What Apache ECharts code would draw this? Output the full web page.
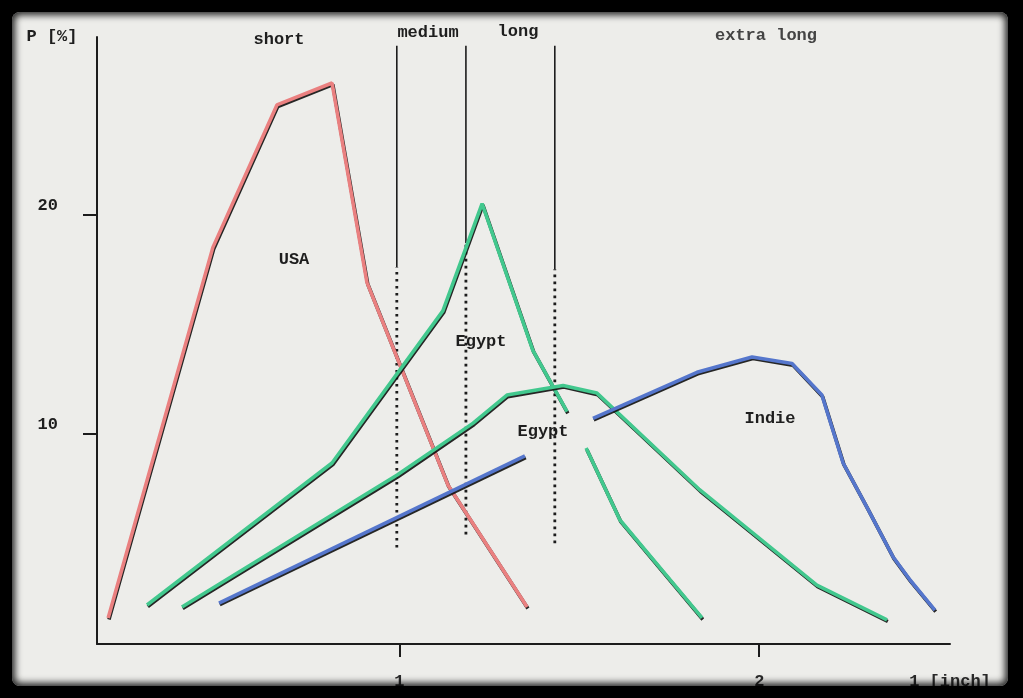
<!DOCTYPE html>
<html><head><meta charset="utf-8">
<script src="https://cdn.jsdelivr.net/npm/echarts@6/dist/echarts.min.js"></script>
<style>
html,body{margin:0;padding:0;background:#000;overflow:hidden;width:1023px;height:698px}
#chart{position:absolute;left:0;top:0;width:1023px;height:698px}
#frame{position:absolute;left:12px;top:12px;width:996px;height:674px;border-radius:8px;
 box-shadow:0 0 0 90px #000, inset 0 0 7px 3px rgba(0,0,0,0.85);pointer-events:none}
</style></head><body>
<div id="chart"></div><div id="frame"></div>
<script>
// ---- data (x: staple length in inch, y: P in %) ----
const usa = [[0.191,1.59],[0.482,18.5],[0.660,25.0],[0.813,26.0],[0.910,16.9],[1.135,7.66],[1.355,2.09]];
const egyptPeakA = [[0.299,2.18],[0.813,8.66],[1.121,15.6],[1.230,20.5],[1.371,13.8],[1.466,11.0]];
const egyptPeakB = [[1.519,9.34],[1.613,6.06],[1.841,1.59]];
const egyptFlat = [[0.396,2.09],[0.994,8.11],[1.205,10.48],[1.299,11.76],[1.455,12.2],[1.549,11.85],[1.835,7.43],[2.160,3.09],[2.355,1.5]];
const indieA = [[0.499,2.27],[1.349,8.98]];
const indieB = [[1.538,10.7],[1.827,12.8],[1.980,13.5],[2.091,13.2],[2.174,11.76],[2.233,8.66],[2.299,6.65],[2.372,4.37],[2.419,3.32],[2.488,1.95]];

const classBounds = [0.993, 1.185, 1.432];
const classSolidFrom = [17.6, 18.7, 17.5];
const classDotFrom = [4.8, 5.4, 5.0];
const classTop = 27.7;

const xTickValues = [1, 2];
const xLabelValues = [1, 2, 2.53];
const xLabelTexts = ['1', '2', '1 [inch]'];
const yTickValues = [10, 20];
const yLabelTexts = ['10', '20'];

const classNames = ['short', 'medium', 'long', 'extra long'];
const curveNames = ['USA', 'Egypt', 'Egypt', 'Indie'];
const yAxisTitle = 'P [%]';

// ---- chart ----
const RED = '#ea8080', GREEN = '#42c88e', BLUE = '#5576cc', INK = '#1c1c1c';
const FONT = '"Liberation Mono", "DejaVu Sans Mono", monospace';

function curve(data, color) {
  return [
    { type: 'line', data: data, symbol: 'none', silent: true, z: 3,
      lineStyle: { color: color, width: 3.6, opacity: 1,
        shadowColor: 'rgba(15,15,15,0.9)', shadowBlur: 0.6, shadowOffsetX: 0.8, shadowOffsetY: 1.6 } }
  ];
}

const series = [];
classBounds.forEach((x, i) => {
  series.push({ type: 'line', data: [[x, classSolidFrom[i]], [x, classTop]], symbol: 'none', silent: true, z: 2,
    lineStyle: { color: INK, width: 1.6 } });
  series.push({ type: 'line', data: [[x, classDotFrom[i]], [x, classSolidFrom[i]]], symbol: 'none', silent: true, z: 2,
    lineStyle: { color: INK, width: 2.8, type: [2.6, 4.4], cap: 'butt' } });
});
series.push(...curve(usa, RED));
series.push(...curve(egyptPeakA, GREEN));
series.push(...curve(egyptPeakB, GREEN));
series.push(...curve(egyptFlat, GREEN));
series.push(...curve(indieA, BLUE));
series.push(...curve(indieB, BLUE));

function txt(text, x, y, color, size) {
  return { type: 'text', x: x, y: y, z: 10, silent: true,
    style: { text: text, fill: color || '#1e1e1e', fontFamily: FONT, fontWeight: 'bold',
      fontSize: size || 17, align: 'center', verticalAlign: 'middle' } };
}

const chart = echarts.init(document.getElementById('chart'), null, { renderer: 'canvas' });
chart.setOption({
  backgroundColor: '#ededea',
  animation: false,
  grid: { left: 97, right: 73, top: 37, bottom: 54, outerBoundsMode: 'none' },
  xAxis: {
    type: 'value', min: 0.16, max: 2.53,
    axisLine: { show: true, lineStyle: { color: INK, width: 2 } },
    axisTick: { show: true, customValues: xTickValues, length: 13, lineStyle: { color: INK, width: 2 } },
    axisLabel: { show: true, customValues: xLabelValues, margin: 29,
      formatter: v => { let k = 0, d = 1e9; xLabelValues.forEach((t, i) => { if (Math.abs(t - v) < d) { d = Math.abs(t - v); k = i; } }); return xLabelTexts[k]; },
      fontFamily: FONT, fontWeight: 'bold', fontSize: 17, color: '#2a2a2a' },
    splitLine: { show: false }
  },
  yAxis: {
    type: 'value', min: 0.4, max: 28.1,
    axisLine: { show: true, lineStyle: { color: INK, width: 2 } },
    axisTick: { show: true, customValues: yTickValues, length: 14, lineStyle: { color: INK, width: 2 } },
    axisLabel: { show: true, customValues: yTickValues, margin: 39, verticalAlign: 'bottom',
      formatter: v => yLabelTexts[yTickValues.indexOf(v)] !== undefined ? yLabelTexts[yTickValues.indexOf(v)] : '',
      fontFamily: FONT, fontWeight: 'bold', fontSize: 17, color: '#1e1e1e' },
    splitLine: { show: false }
  },
  graphic: [
    txt(yAxisTitle, 52, 37),
    txt(classNames[0], 279, 40),
    txt(classNames[1], 428, 33),
    txt(classNames[2], 518, 32),
    txt(classNames[3], 766, 36, '#444'),
    txt(curveNames[0], 294, 260),
    txt(curveNames[1], 481, 342),
    txt(curveNames[2], 543, 432),
    txt(curveNames[3], 770, 419)
  ],
  series: series
});
</script>
</body></html>
